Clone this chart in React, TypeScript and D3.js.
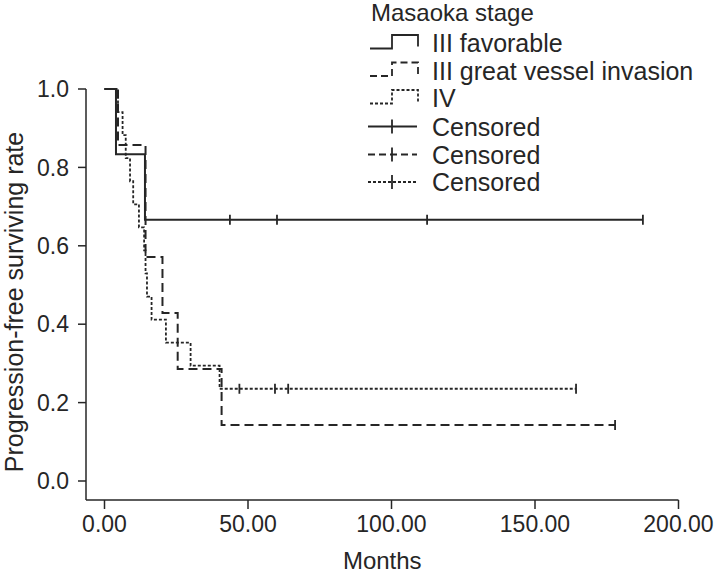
import React from "react";
import * as d3 from "d3";

// ---- Data (months) ----
const groupNames = ["III favorable", "III great vessel invasion", "IV"];
const favorableEvents = [4.0, 14.1];
const favorableCensored = [43.7, 60.1, 112.4, 187.6];
const vesselEvents = [4.7, 14.3, 14.3, 20.2, 25.5, 40.8];
const vesselCensored = [177.9];
const stageIVEvents = [4.7, 6.3, 7.4, 8.9, 10.0, 12.0, 13.8, 14.3, 14.8, 16.4, 21.4, 30.0, 40.1];
const stageIVCensored = [47.0, 59.4, 64.0, 164.3];
const xTicks = [0, 50, 100, 150, 200];
const yTicks = [0, 0.2, 0.4, 0.6, 0.8, 1.0];

const W = 717;
const H = 575;
const INK = "#262626";
const FONT = "'Liberation Sans', Arial, Helvetica, sans-serif";

type KM = { steps: [number, number][]; censors: [number, number][]; end: number };

function kaplanMeier(events: number[], censored: number[]): KM {
  const all = [
    ...events.map((t) => ({ t, e: 1 })),
    ...censored.map((t) => ({ t, e: 0 })),
  ].sort((a, b) => a.t - b.t || b.e - a.e);
  let atRisk = all.length;
  let s = 1;
  const steps: [number, number][] = [[0, 1]];
  const censors: [number, number][] = [];
  let i = 0;
  while (i < all.length) {
    const t = all[i].t;
    let d = 0;
    let c = 0;
    while (i < all.length && all[i].t === t) {
      if (all[i].e) d++;
      else c++;
      i++;
    }
    if (d > 0) {
      s = s * (1 - d / atRisk);
      steps.push([t, s]);
    }
    if (c > 0) censors.push([t, s]);
    atRisk -= d + c;
  }
  const end = all[all.length - 1].t;
  return { steps, censors, end };
}

export default function App() {
  const x = d3.scaleLinear().domain([0, 200]).range([104.5, 678.5]);
  const y = d3.scaleLinear().domain([0, 1]).range([481, 89]);
  const axisX = 86;
  const axisY = 500;

  const groups = [
    { km: kaplanMeier(favorableEvents, favorableCensored), dash: "none", width: 2 },
    { km: kaplanMeier(vesselEvents, vesselCensored), dash: "9,5", width: 2 },
    { km: kaplanMeier(stageIVEvents, stageIVCensored), dash: "3,2", width: 1.8 },
  ];

  const line = d3
    .line<[number, number]>()
    .x((d) => x(d[0]))
    .y((d) => y(d[1]))
    .curve(d3.curveStepAfter);

  const legendX = 370;
  const legendRows = [43, 70.5, 98, 126.5, 154.5, 182];
  const dashes = ["none", "7,4", "3,2"];

  return (
    <svg
      width={W}
      height={H}
      style={{ position: "absolute", left: 0, top: 0, background: "#fff" }}
      fontFamily={FONT}
    >
      <rect x={0} y={0} width={W} height={H} fill="#fff" />
      {/* axes */}
      <line x1={axisX} x2={axisX} y1={y(1)} y2={axisY} stroke={INK} strokeWidth={1.5} />
      <line x1={axisX} x2={x(200)} y1={axisY} y2={axisY} stroke={INK} strokeWidth={1.5} />
      {yTicks.map((t) => (
        <g key={"y" + t}>
          <line x1={axisX - 8} x2={axisX} y1={y(t)} y2={y(t)} stroke={INK} strokeWidth={1.5} />
          <text x={69} y={y(t)} dy="0.36em" textAnchor="end" fontSize={23} fill={INK}>
            {t.toFixed(1)}
          </text>
        </g>
      ))}
      {xTicks.map((t) => (
        <g key={"x" + t}>
          <line x1={x(t)} x2={x(t)} y1={axisY} y2={axisY + 9} stroke={INK} strokeWidth={1.5} />
          <text x={x(t)} y={532} textAnchor="middle" fontSize={23} fill={INK}>
            {t.toFixed(2)}
          </text>
        </g>
      ))}
      <text x={(axisX + x(200)) / 2} y={569} textAnchor="middle" fontSize={24} fill={INK}>
        Months
      </text>
      <text
        transform={`translate(23,302) rotate(-90)`}
        textAnchor="middle"
        fontSize={25}
        fill={INK}
      >
        Progression-free surviving rate
      </text>

      {/* curves */}
      {groups.map((g, gi) => {
        const pts: [number, number][] = [...g.km.steps, [g.km.end, g.km.steps[g.km.steps.length - 1][1]]];
        return (
          <g key={"g" + gi}>
            <path
              d={line(pts) || ""}
              fill="none"
              stroke={INK}
              strokeWidth={g.width}
              strokeDasharray={g.dash}
            />
            {g.km.censors.map((c, ci) => (
              <line
                key={ci}
                x1={x(c[0])}
                x2={x(c[0])}
                y1={y(c[1]) - 5}
                y2={y(c[1]) + 5}
                stroke={INK}
                strokeWidth={1.8}
              />
            ))}
          </g>
        );
      })}

      {/* legend */}
      <text x={371} y={21} fontSize={24} fill={INK}>
        Masaoka stage
      </text>
      {groupNames.map((name, i) => {
        const cy = legendRows[i];
        const top = cy - 8;
        const bot = cy + 5.5;
        return (
          <g key={"l" + i}>
            <path
              d={`M${legendX},${bot}H${legendX + 22}V${top}H${legendX + 48}V${bot - 2}`}
              fill="none"
              stroke={INK}
              strokeWidth={1.8}
              strokeDasharray={dashes[i]}
            />
            <text x={432} y={cy} dy="0.36em" fontSize={25} fill={INK}>
              {name}
            </text>
          </g>
        );
      })}
      {[0, 1, 2].map((i) => {
        const cy = legendRows[3 + i];
        return (
          <g key={"c" + i}>
            <line
              x1={legendX - 2}
              x2={legendX + 47}
              y1={cy}
              y2={cy}
              stroke={INK}
              strokeWidth={1.8}
              strokeDasharray={dashes[i]}
            />
            <line x1={legendX + 22} x2={legendX + 22} y1={cy - 7} y2={cy + 7} stroke={INK} strokeWidth={1.8} />
            <text x={432} y={cy} dy="0.36em" fontSize={25} fill={INK}>
              Censored
            </text>
          </g>
        );
      })}
    </svg>
  );
}
